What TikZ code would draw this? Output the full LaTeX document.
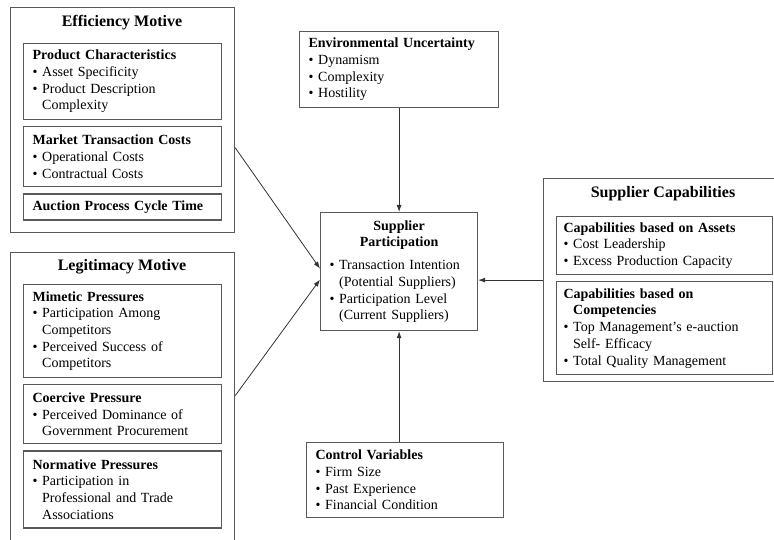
\documentclass[tikz,border=0pt]{standalone}
\usepackage{fontspec}
\setmainfont{Liberation Serif}
\usetikzlibrary{positioning,arrows.meta,calc}
\newcommand{\bl}{\textbullet\ }
\newcommand{\hg}{\phantom{\textbullet\ }}

\begin{document}
\begin{tikzpicture}[x=1pt,y=-1pt,% List of styles, coordinates in pixels of the original
		every node/.style={font=\fontsize{14}{16.7}\selectfont},
		outer/.style={draw=black!65,line width=1.2pt,anchor=north west,inner sep=0pt},
		title/.style={font=\fontsize{16}{19}\selectfont\bfseries},
		inner/.style={draw=black!65,line width=1.2pt,align=left,
			inner xsep=9pt,inner ysep=0pt},
		link/.style={-{Latex[length=7pt,width=5pt]},draw=black!80,line width=0.8pt}
	]
	\useasboundingbox (0,0) rectangle (774,540);

	% efficiency motive
	\node[outer,minimum width=224pt,minimum height=225pt](eff) at (10,7){};
	\node[title](efft) at (122,23){Efficiency Motive};
	\node[inner,anchor=north west,text width=180pt,minimum height=76pt](prod) at (23,43)
		{\textbf{Product Characteristics}\\ \bl Asset Specificity\\ \bl Product Description\\ \hg Complexity};
	\node[inner,text width=180pt,minimum height=60pt,below=6pt of prod](mtc)
		{\textbf{Market Transaction Costs}\\ \bl Operational Costs\\ \bl Contractual Costs};
	\node[inner,text width=180pt,minimum height=26pt,below=6pt of mtc](apct)
		{\textbf{Auction Process Cycle Time}};

	% legitimacy motive
	\node[outer,minimum width=224pt,minimum height=300pt](leg) at (10,252){};
	\node[title](legt) at (122,267){Legitimacy Motive};
	\node[inner,anchor=north west,text width=180pt,minimum height=93pt](mim) at (23,284)
		{\textbf{Mimetic Pressures}\\ \bl Participation Among\\ \hg Competitors\\ \bl Perceived Success of\\ \hg Competitors};
	\node[inner,text width=180pt,minimum height=59pt,below=6pt of mim](coe)
		{\textbf{Coercive Pressure}\\ \bl Perceived Dominance of\\ \hg Government Procurement};
	\node[inner,text width=180pt,minimum height=77pt,below=6pt of coe](nor)
		{\textbf{Normative Pressures}\\ \bl Participation in\\ \hg Professional and Trade\\ \hg Associations};

	% centre column
	\node[inner,anchor=north west,text width=181pt,minimum height=76pt](env) at (299,31)
		{\textbf{Environmental Uncertainty}\\ \bl Dynamism\\ \bl Complexity\\ \bl Hostility};
	\node[inner,anchor=north west,text width=139pt,minimum height=118pt](sp) at (320,212)
		{{\centering\bfseries Supplier\\ Participation\par}\vspace{6pt}\raggedright
		\bl Transaction Intention\\ \hg(Potential Suppliers)\\ \bl Participation Level\\ \hg(Current Suppliers)};
	\node[inner,anchor=north west,text width=179pt,minimum height=75pt](cv) at (306,442)
		{\textbf{Control Variables}\\ \bl Firm Size\\ \bl Past Experience\\ \bl Financial Condition};

	% supplier capabilities
	\node[outer,minimum width=240pt,minimum height=203pt](sc) at (543,178){};
	\node[title](sct) at (663,194){Supplier Capabilities};
	\node[inner,anchor=north west,inner xsep=7pt,text width=202pt,minimum height=58pt](ast) at (556,216)
		{\textbf{Capabilities based on Assets}\\ \bl Cost Leadership\\ \bl Excess Production Capacity};
	\node[inner,inner xsep=7pt,text width=202pt,minimum height=93pt,below=6pt of ast](cmp)
		{\textbf{Capabilities based on}\\ \hg\textbf{Competencies}\\ \bl Top Management's e-auction\\ \hg Self- Efficacy\\ \bl Total Quality Management};

	\draw[link] ($(eff.north east)!0.622!(eff.south east)$) -- ([yshift=3pt]sp.west);
	\draw[link] ($(leg.north east)!0.477!(leg.south east)$) -- ([yshift=-8pt]sp.west);
	\draw[link] (env) -- (sp);
	\draw[link] (cv.north -| sp.south) -- (sp.south);
	\draw[link] (sc.west) -- (sc.west -| sp.east);
\end{tikzpicture}
\end{document}
